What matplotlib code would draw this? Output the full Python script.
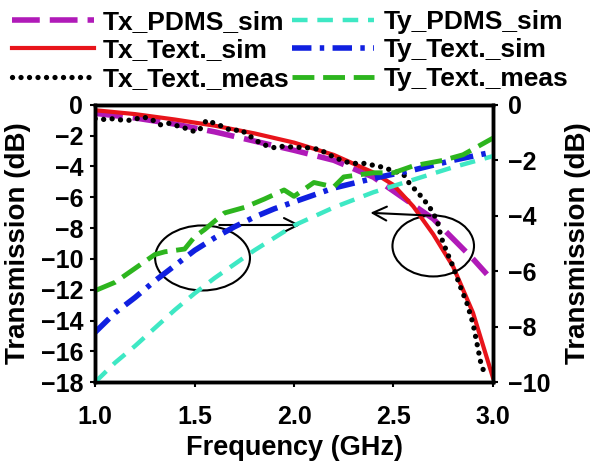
import numpy as np
import matplotlib
matplotlib.use('Agg')
import matplotlib.pyplot as plt
from matplotlib.patches import Ellipse

plt.rcParams['font.family'] = ['Liberation Sans', 'DejaVu Sans']
plt.rcParams['font.weight'] = 'bold'
plt.rcParams['axes.labelweight'] = 'bold'
plt.rcParams['font.size'] = 18

# --- data (GHz, dB) ---
# Tx curves -> left axis
f_tx_pdms = [1.0, 1.2, 1.4, 1.6, 1.8, 2.0, 2.2, 2.4, 2.5, 2.6, 2.7, 2.8, 2.9, 2.97]
tx_pdms = [-0.55, -0.85, -1.25, -1.75, -2.35, -2.95, -3.6, -4.7, -5.6, -6.5, -7.4,
           -8.7, -10.0, -11.0]

f_tx_text = [1.0, 1.2, 1.4, 1.6, 1.8, 2.0, 2.2, 2.4, 2.5, 2.6, 2.7, 2.8, 2.9, 3.0]
tx_text = [-0.35, -0.6, -0.95, -1.35, -1.85, -2.45, -3.25, -4.4, -5.2, -6.6, -8.4,
           -10.5, -13.5, -17.7]

f_tx_meas = [1.0, 1.05, 1.09, 1.14, 1.19, 1.23, 1.27, 1.33, 1.37, 1.45, 1.49, 1.52,
             1.56, 1.6, 1.64, 1.69, 1.73, 1.82, 1.87, 1.91, 1.94, 2.08, 2.13, 2.17,
             2.22, 2.26, 2.3, 2.35, 2.43, 2.48, 2.55, 2.58, 2.63, 2.68, 2.72, 2.74,
             2.77, 2.8, 2.83, 2.87, 2.9, 2.92, 2.94, 2.96]
tx_meas = [-0.9, -0.95, -0.9, -1.0, -1.0, -0.8, -0.85, -1.3, -1.2, -1.5, -1.7, -1.7,
           -1.0, -1.2, -1.4, -1.7, -1.6, -2.4, -2.7, -2.8, -2.7, -2.8, -2.9, -3.2,
           -3.5, -3.7, -3.8, -3.8, -4.0, -4.2, -4.5, -5.1, -5.8, -6.6, -7.5, -8.6,
           -9.6, -10.5, -11.6, -12.9, -14.2, -15.5, -16.8, -17.5]

# Ty curves -> right axis
f_ty_pdms = [1.0, 1.1, 1.2, 1.3, 1.4, 1.5, 1.6, 1.7, 1.8, 1.9, 2.0, 2.2, 2.4, 2.6,
             2.8, 3.0]
ty_pdms = [-10.0, -9.3, -8.7, -8.05, -7.4, -6.8, -6.25, -5.75, -5.25, -4.8, -4.35,
           -3.7, -3.15, -2.7, -2.25, -1.85]

f_ty_text = [1.0, 1.1, 1.2, 1.3, 1.4, 1.5, 1.6, 1.7, 1.8, 1.9, 2.0, 2.2, 2.4, 2.6,
             2.8, 3.0]
ty_text = [-8.2, -7.5, -6.95, -6.35, -5.8, -5.25, -4.8, -4.4, -4.05, -3.75, -3.5,
           -3.0, -2.65, -2.35, -2.0, -1.7]

f_ty_meas = [1.0, 1.1, 1.2, 1.3, 1.35, 1.45, 1.5, 1.55, 1.65, 1.75, 1.85, 1.95,
             2.0, 2.1, 2.2, 2.25, 2.4, 2.5, 2.6, 2.75, 2.85, 2.95, 3.0]
ty_meas = [-6.7, -6.4, -5.9, -5.4, -5.3, -5.2, -4.76, -4.5, -3.9, -3.7, -3.4, -3.07,
           -3.3, -2.8, -2.96, -2.6, -2.45, -2.45, -2.2, -2.0, -1.8, -1.4, -1.2]

fig = plt.figure(figsize=(5.91, 4.66), dpi=100)
ax = fig.add_axes([0.161, 0.180, 0.673, 0.595])
ax2 = ax.twinx()

l1, = ax.plot(f_tx_pdms, tx_pdms, color='#b01ab8', lw=4, ls=(0, (5, 1.8)),
              label='Tx_PDMS_sim')
l3, = ax.plot(f_tx_text, tx_text, color='#e8141b', lw=3, label='Tx_Text._sim')
l5, = ax.plot(f_tx_meas, tx_meas, color='black', lw=3.8, ls=(0, (0.01, 1.6)),
              dash_capstyle='round', label='Tx_Text._meas')

l2, = ax2.plot(f_ty_pdms, ty_pdms, color='#3ee8c4', lw=3.2, ls=(0, (3.5, 2.2)),
               label='Ty_PDMS_sim')
l4, = ax2.plot(f_ty_text, ty_text, color='#1020e0', lw=4, ls=(0, (3.5, 1.5, 0.8, 1.5)),
               label='Ty_Text._sim')
l6, = ax2.plot(f_ty_meas, ty_meas, color='#2db51e', lw=3.5, ls=(0, (4.5, 1.8)),
               label='Ty_Text._meas')

ax.set_xlim(1.0, 3.0)
ax.set_ylim(-18, 0)
ax2.set_ylim(-10, 0)
ax.set_xticks([1.0, 1.5, 2.0, 2.5, 3.0])
ax.set_xticklabels(['1.0', '1.5', '2.0', '2.5', '3.0'])
ax.set_yticks(np.arange(-18, 1, 2))
ax2.set_yticks(np.arange(-10, 1, 2))

for a in (ax, ax2):
    for s in a.spines.values():
        s.set_linewidth(2.5)
    a.tick_params(width=1.5, length=3.6, direction='out')
    for lab in a.get_xticklabels() + a.get_yticklabels():
        lab.set_fontweight('bold')
ax.tick_params(axis='x', pad=13)
ax.tick_params(axis='y', pad=5)
ax2.tick_params(axis='y', pad=7)

ax.set_xlabel('Frequency (GHz)', labelpad=4, fontsize=19.5)
ax.set_ylabel('Transmission (dB)', labelpad=7, fontsize=20)
ax2.set_ylabel('Transmission (dB)', labelpad=11, fontsize=20)

# ellipses + arrows pointing to the axis each group uses
ax.add_patch(Ellipse((1.54, -9.94), 0.477, 4.22, fill=False, lw=1.5, ec='black'))
ax.annotate('', xy=(2.045, -7.8), xytext=(1.61, -7.8),
            arrowprops=dict(arrowstyle='->', lw=1.5, color='black', mutation_scale=25))
ax.add_patch(Ellipse((2.70, -9.16), 0.41, 3.96, fill=False, lw=1.5, ec='black'))
ax.annotate('', xy=(2.37, -7.0), xytext=(2.70, -7.2),
            arrowprops=dict(arrowstyle='->', lw=1.5, color='black', mutation_scale=25))

# legend is filled column by column, so Tx first then Ty
fig.legend(handles=[l1, l3, l5, l2, l4, l6], ncol=2, loc='upper left',
           bbox_to_anchor=(12 / 591, 1 - 10 / 466), frameon=False, handlelength=3.1,
           handletextpad=0.35, columnspacing=0.1, labelspacing=0.17,
           borderaxespad=0.0, borderpad=0.0, prop=dict(size=19, weight='bold'))

fig.savefig('out.png', dpi=100)
